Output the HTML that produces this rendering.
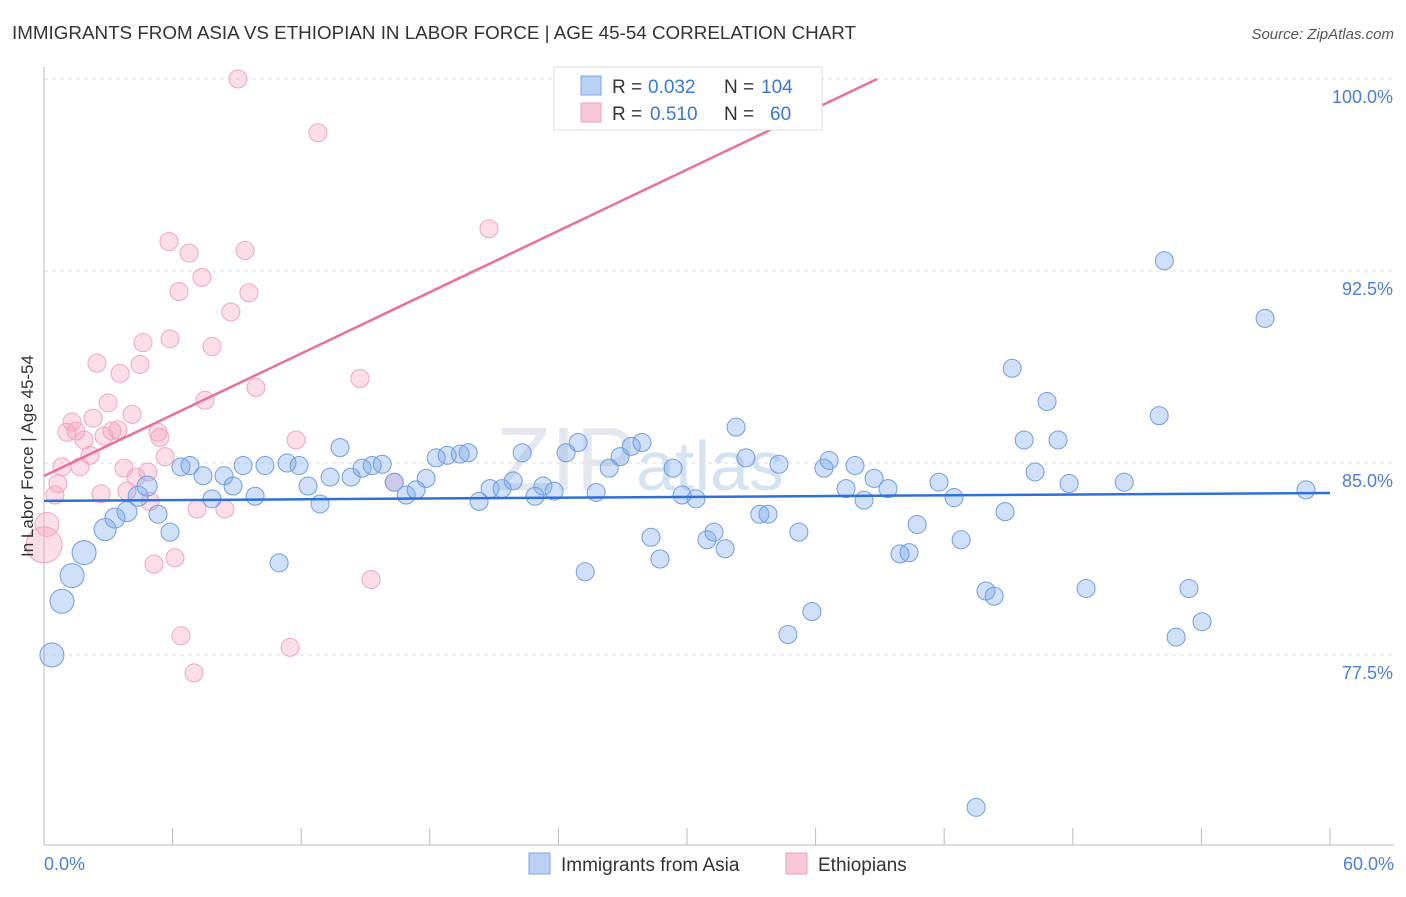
<!DOCTYPE html>
<html><head><meta charset="utf-8"><style>
body{margin:0;background:#fff;font-family:"Liberation Sans",sans-serif;}
svg text{font-family:"Liberation Sans",sans-serif;}
</style></head><body>
<svg id="chart" width="1406" height="892">
<text x="12" y="39" font-size="18" fill="#333" textLength="844" lengthAdjust="spacingAndGlyphs">IMMIGRANTS FROM ASIA VS ETHIOPIAN IN LABOR FORCE | AGE 45-54 CORRELATION CHART</text>
<text x="1394" y="39" font-size="15" fill="#555" text-anchor="end" font-style="italic">Source: ZipAtlas.com</text>
<text x="640" y="490" font-size="90" fill="#e4e8ee" font-family="Liberation Serif" text-anchor="middle">ZIP<tspan fill="#d5e2f2" font-family="Liberation Sans" font-size="70">atlas</tspan></text>
<g id="grid"></g><g id="axes"></g><g id="pts"></g><g id="lines"></g>
<text transform="translate(33,456) rotate(-90)" font-size="17" fill="#333" text-anchor="middle">In Labor Force | Age 45-54</text>
<text x="44" y="870" font-size="18" fill="#4a7fd4">0.0%</text>
<text x="1394" y="870" font-size="18" fill="#4a7fd4" text-anchor="end">60.0%</text>
<g>
<rect x="554" y="67" width="268" height="63" fill="#fff" stroke="#ddd"/>
<rect x="581" y="76" width="20" height="19" fill="#b9d0f2" stroke="#7aa5e6"/>
<rect x="581" y="103" width="20" height="19" fill="#f8c8d6" stroke="#f0a0bb"/>
<text x="612" y="93" font-size="19" fill="#333">R =</text>
<text x="648" y="93" font-size="19" fill="#3a78d8">0.032</text>
<text x="724" y="93" font-size="19" fill="#333">N =</text>
<text x="761" y="93" font-size="19" fill="#3a78d8">104</text>
<text x="612" y="120" font-size="19" fill="#333">R =</text>
<text x="650" y="120" font-size="19" fill="#3a78d8">0.510</text>
<text x="724" y="120" font-size="19" fill="#333">N =</text>
<text x="770" y="120" font-size="19" fill="#3a78d8">60</text>
</g>
<g>
<rect x="529" y="853" width="21" height="21" fill="#b9d0f2" stroke="#7aa5e6"/>
<text x="561" y="871" font-size="19" fill="#333">Immigrants from Asia</text>
<rect x="786" y="853" width="21" height="21" fill="#f8c8d6" stroke="#f0a0bb"/>
<text x="818" y="871" font-size="19" fill="#333">Ethiopians</text>
</g>
</svg>
<script>
const yTicks=[100,92.5,85,77.5];
const yTickLabels=["100.0%","92.5%","85.0%","77.5%"];
const xTicks=[0,6,12,18,24,30,36,42,48,54,60];
const blueX=[0.37,0.84,1.31,1.87,2.85,3.31,3.87,4.39,4.81,5.32,5.88,6.39,6.81,7.42,7.84,8.4,8.82,9.29,9.85,10.31,10.97,11.34,11.9,12.32,12.88,13.35,13.81,14.33,14.84,15.31,15.78,16.34,16.9,17.36,17.83,18.3,18.81,19.42,19.79,20.3,20.81,21.37,21.89,22.31,22.91,23.28,23.8,24.36,24.92,25.25,25.76,26.37,26.88,27.4,27.9,28.32,28.74,29.35,29.77,30.42,30.93,31.26,31.78,32.29,32.75,33.4,33.78,34.29,34.71,35.22,35.83,36.39,36.63,37.42,37.84,38.26,38.73,39.38,39.94,40.36,40.74,41.76,42.46,42.79,43.49,43.95,44.33,44.84,45.17,45.73,46.24,46.8,47.31,47.83,48.62,50.4,52.03,52.27,52.82,53.42,54.03,56.97,58.88];
const blueY=[77.5,79.6,80.6,81.5,82.4,82.85,83.1,83.7,84.1,83.0,82.3,84.85,84.9,84.5,83.6,84.5,84.1,84.9,83.7,84.9,81.1,85.0,84.9,84.1,83.4,84.45,85.6,84.45,84.8,84.9,84.95,84.25,83.75,83.95,84.4,85.2,85.3,85.35,85.4,83.5,84.0,84.0,84.3,85.4,83.7,84.1,83.9,85.4,85.8,80.75,83.85,84.8,85.25,85.65,85.8,82.1,81.25,84.8,83.75,83.6,82.0,82.3,81.65,86.4,85.2,83.0,83.0,84.95,78.3,82.3,79.2,84.8,85.1,84.0,84.9,83.55,84.4,84.0,81.45,81.5,82.6,84.25,83.65,82.0,71.55,80.0,79.8,83.1,88.7,85.9,84.65,87.4,85.9,84.2,80.1,84.25,86.85,92.9,78.2,80.1,78.8,90.65,83.95];
const blueR=[12,12,12,12,11,10,10,10,10,9,9,9,9,9,9,9,9,9,9,9,9,9,9,9,9,9,9,9,9,9,9,9,9,9,9,9,9,9,9,9,9,9,9,9,9,9,9,9,9,9,9,9,9,9,9,9,9,9,9,9,9,9,9,9,9,9,9,9,9,9,9,9,9,9,9,9,9,9,9,9,9,9,9,9,9,9,9,9,9,9,9,9,9,9,9,9,9,9,9,9,9,9,9];
const pinkX=[0,0.14,0.51,0.65,0.84,1.07,1.31,1.49,1.68,1.87,2.15,2.29,2.47,2.66,2.8,2.99,3.17,3.45,3.55,3.73,3.87,4.11,4.29,4.48,4.62,4.85,4.95,5.13,5.32,5.41,5.65,5.83,5.88,6.11,6.3,6.39,6.77,7.0,7.14,7.37,7.51,7.84,8.44,8.72,9.05,9.38,9.56,9.89,11.48,11.76,12.78,14.74,15.26,16.34,20.76,33.0];
const pinkY=[81.8,82.6,83.75,84.2,84.85,86.2,86.6,86.25,84.85,85.9,85.3,86.75,88.9,83.8,86.05,87.35,86.25,86.3,88.5,84.8,83.9,86.9,84.45,88.85,89.7,84.65,83.5,81.05,86.2,86.0,85.25,93.65,89.85,81.3,91.7,78.25,93.2,76.8,83.2,92.25,87.45,89.55,83.2,90.9,100,93.3,91.65,87.95,77.8,85.9,97.9,88.3,80.45,84.25,94.15,100];
const pinkR=[18,12,9,9,9,9,9,9,9,9,9,9,9,9,9,9,9,9,9,9,9,9,9,9,9,9,9,9,9,9,9,9,9,9,9,9,9,9,9,9,9,9,9,9,9,9,9,9,9,9,9,9,9,9,9,9];
const blueTrend=[83.52,83.83];
const pinkTrend=[84.49,100];
const pinkTrendX=[0,38.87];
const NS='http://www.w3.org/2000/svg';
const X=v=>44+v/60*1286;
const Y=v=>79+(100-v)/7.5*192;
function mk(t,a,p){const e=document.createElementNS(NS,t);for(const k in a)e.setAttribute(k,a[k]);document.getElementById(p).appendChild(e);return e;}
yTicks.forEach((t,i)=>{
 const l=mk('line',{x1:44,x2:1394,y1:Y(t),y2:Y(t),stroke:'#ddd','stroke-dasharray':'4,4'},'grid');
 
 
 const tx=mk('text',{x:1393,y:Y(t)+24,'font-size':18,fill:'#4a7fd4','text-anchor':'end'},'grid');
 tx.textContent=yTickLabels[i];
 
 
});
const ax=mk('line',{x1:44,x2:44,y1:67,y2:845,stroke:'#bbb'},'axes');


const bx=mk('line',{x1:44,x2:1394,y1:845,y2:845,stroke:'#bbb'},'axes');


xTicks.forEach(t=>{const l=mk('line',{x1:X(t),x2:X(t),y1:828,y2:845,stroke:'#bbb'},'axes');
 
 });
pinkX.forEach((v,i)=>{const c=mk('circle',{cx:X(v),cy:Y(pinkY[i]),r:pinkR[i],fill:'rgba(244,160,190,0.35)',stroke:'#f0a5c0','stroke-width':1},'pts');
 
 });
blueX.forEach((v,i)=>{const c=mk('circle',{cx:X(v),cy:Y(blueY[i]),r:blueR[i],fill:'rgba(120,165,235,0.35)',stroke:'#6f9de0','stroke-width':1},'pts');
 
 });
const bl=mk('line',{x1:X(0),y1:Y(blueTrend[0]),x2:X(60),y2:Y(blueTrend[1]),stroke:'#2f6fd6','stroke-width':2.5},'lines');


const pl=mk('line',{x1:X(pinkTrendX[0]),y1:Y(pinkTrend[0]),x2:X(pinkTrendX[1]),y2:Y(pinkTrend[1]),stroke:'#e8709a','stroke-width':2.5},'lines');


</script>
</body></html>
